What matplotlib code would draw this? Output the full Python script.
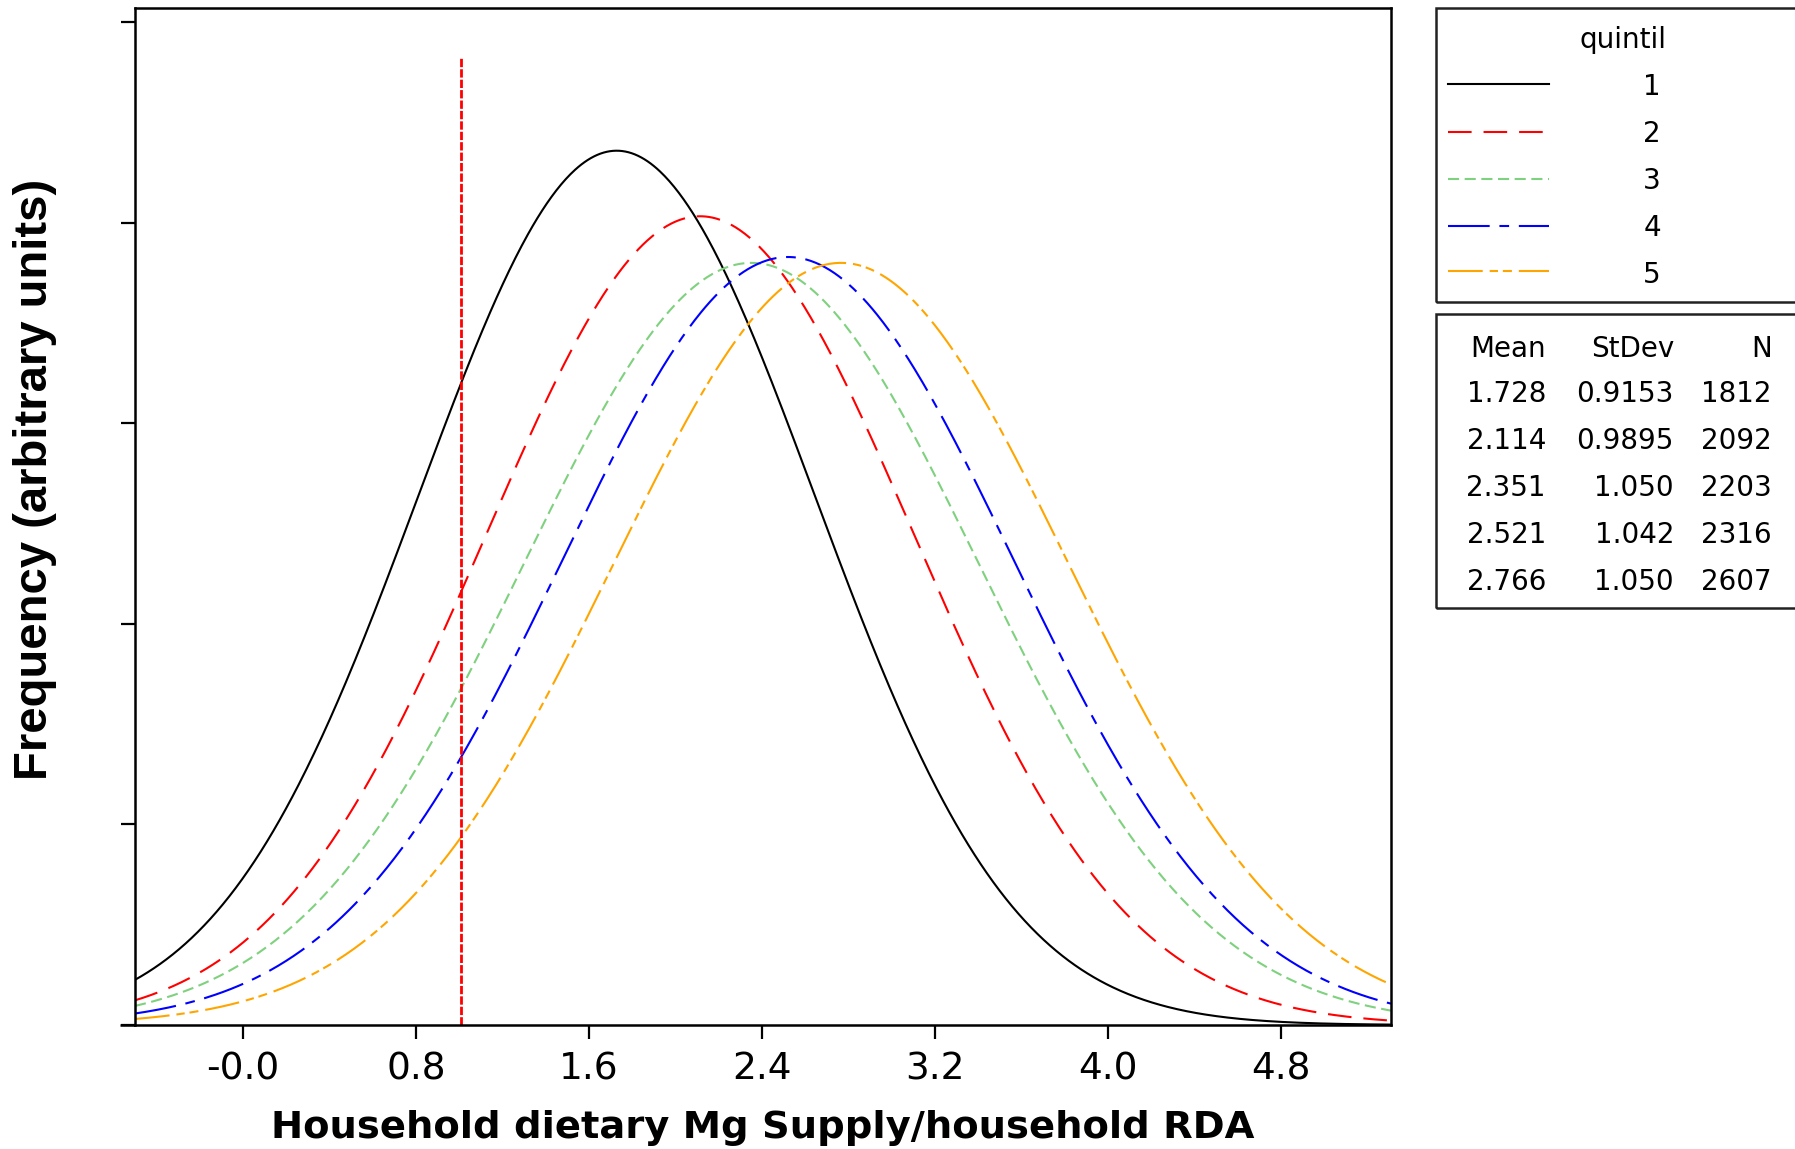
import numpy as np
import matplotlib
matplotlib.use("Agg")
import matplotlib.pyplot as plt
from matplotlib.lines import Line2D
from matplotlib.patches import Rectangle

# ---------------- data ----------------
quintiles = ["1", "2", "3", "4", "5"]
means = [1.728, 2.114, 2.351, 2.521, 2.766]
stdevs = [0.9153, 0.9895, 1.050, 1.042, 1.050]
stdev_labels = ["0.9153", "0.9895", "1.050", "1.042", "1.050"]
counts = [1812, 2092, 2203, 2316, 2607]
ref_x = 1.01         # reference (RDA) line
ref_top = 0.482      # height of reference line
xticks = [0.0, 0.8, 1.6, 2.4, 3.2, 4.0, 4.8]
xtick_labels = ["-0.0", "0.8", "1.6", "2.4", "3.2", "4.0", "4.8"]
yticks = [0.0, 0.1, 0.2, 0.3, 0.4, 0.5]
xlim = (-0.5, 5.31)
ylim = (0.0, 0.507)

# ---------------- style ----------------
colors = ["#000000", "#FF0000", "#7FD17F", "#0000FF", "#FFA500"]
dashes = [None, (17, 8.6), (8, 4), (30, 7, 7, 7), (25, 5, 6, 3.5, 6.5, 5)]
plt.rcParams["lines.scale_dashes"] = False

W, H = 1795, 1149
fig = plt.figure(figsize=(W / 100, H / 100), dpi=100)


def fx(px):
    return px / W


def fy(py):
    return 1 - py / H


ax = fig.add_axes([fx(135), fy(1025), fx(1391) - fx(135), fy(8) - fy(1025)])

xs = np.linspace(xlim[0], xlim[1], 800)
for m, s, c, d in zip(means, stdevs, colors, dashes):
    ys = np.exp(-0.5 * ((xs - m) / s) ** 2) / (s * np.sqrt(2 * np.pi))
    ln, = ax.plot(xs, ys, color=c, lw=1.5)
    if d is not None:
        ln.set_dashes(d)

ax.plot([ref_x, ref_x], [0, ref_top], color="#FF0000", lw=2.0, dashes=(6, 1.5))

ax.set_xlim(*xlim)
ax.set_ylim(*ylim)
ax.set_xticks(xticks)
ax.set_xticklabels(xtick_labels, fontsize=27, family="DejaVu Sans")
ax.set_yticks(yticks)
ax.set_yticklabels([])
ax.tick_params(axis="both", direction="out", length=10, width=1.6, pad=9)
for sp in ax.spines.values():
    sp.set_linewidth(1.8)
# bottom axis line extends slightly to the left
ax.plot([-0.012, 0], [0, 0], transform=ax.transAxes, color="black", lw=1.8,
        clip_on=False, solid_capstyle="butt")

fig.text(fx(763), fy(1138), "Household dietary Mg Supply/household RDA",
         ha="center", va="baseline", fontsize=27.7, fontweight="bold",
         family="DejaVu Sans")
fig.text(fx(35.5), fy(479), "Frequency (arbitrary units)", rotation=90,
         ha="center", va="center", fontsize=34, fontweight="bold",
         family="Liberation Sans")

# ---------------- legend box 1 ----------------
fig.patches.append(Rectangle((fx(1436), fy(302)), fx(1810) - fx(1436), fy(8) - fy(302),
                             transform=fig.transFigure, fill=False, lw=1.8,
                             edgecolor="#222222", clip_on=False))
fig.text(fx(1623), fy(48), "quintil", ha="center", va="baseline", fontsize=20,
         family="DejaVu Sans")
row_y1 = [84, 131.5, 179, 226, 271]
base_y1 = [95, 142.5, 189, 236.5, 283]
for q, c, d, ly, by in zip(quintiles, colors, dashes, row_y1, base_y1):
    l = Line2D([fx(1448), fx(1549)], [fy(ly), fy(ly)], transform=fig.transFigure,
               color=c, lw=1.5)
    if d is not None:
        l.set_dashes(d)
    fig.lines.append(l)
    fig.text(fx(1652), fy(by), q, ha="center", va="baseline", fontsize=20,
             family="DejaVu Sans")

# ---------------- legend box 2 ----------------
fig.patches.append(Rectangle((fx(1436), fy(608)), fx(1810) - fx(1436), fy(314) - fy(608),
                             transform=fig.transFigure, fill=False, lw=1.8,
                             edgecolor="#222222", clip_on=False))
col_x = [1546, 1674, 1772]
for hx, h in zip(col_x, ["Mean", "StDev", "N"]):
    fig.text(fx(hx), fy(357), h, ha="right", va="baseline", fontsize=20,
             family="DejaVu Sans")
base_y2 = [401.5, 449, 496, 543, 590]
for m, sl, n, by in zip(means, stdev_labels, counts, base_y2):
    for hx, t in zip(col_x, [f"{m:.3f}", sl, str(n)]):
        fig.text(fx(hx), fy(by), t, ha="right", va="baseline", fontsize=20,
                 family="DejaVu Sans")

fig.savefig("out.png", dpi=100)
